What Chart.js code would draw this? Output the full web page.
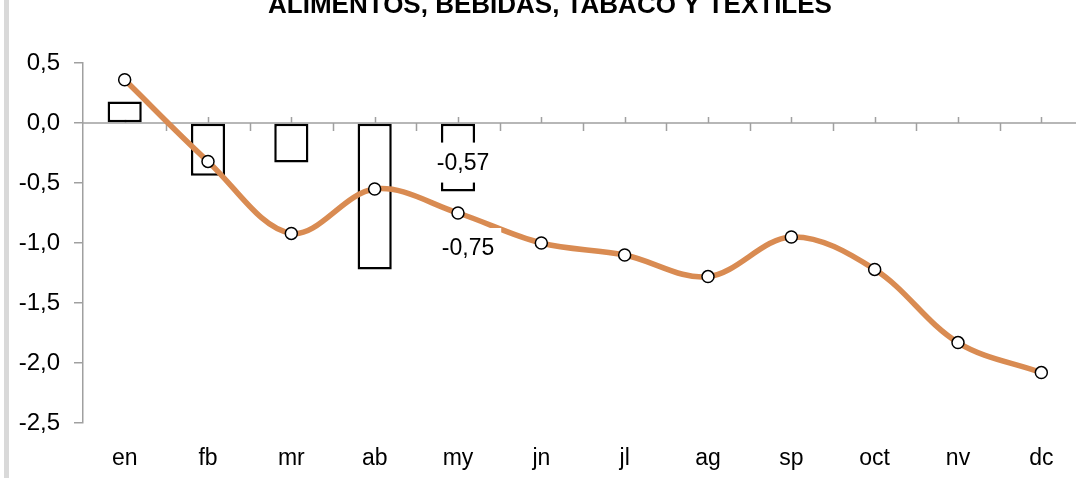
<!DOCTYPE html>
<html>
<head>
<meta charset="utf-8">
<script src="https://cdn.jsdelivr.net/npm/chart.js@4.4.1/dist/chart.umd.min.js"></script>
<style>
  html, body { margin: 0; padding: 0; background: #fff; overflow: hidden; }
  #wrap { width: 1076px; height: 478px; overflow: hidden; }
</style>
</head>
<body>
<div id="wrap"><canvas id="chart" width="1100" height="478"></canvas></div>
<script>
// Monthly series
const months = ["en", "fb", "mr", "ab", "my", "jn", "jl", "ag", "sp", "oct", "nv", "dc"];
const barValues = [0.18, -0.44, -0.33, -1.22, -0.57, null, null, null, null, null, null, null];
const lineValues = [0.36, -0.32, -0.92, -0.55, -0.75, -1.00, -1.10, -1.28, -0.95, -1.22, -1.83, -2.08];
const yTicks = [0.5, 0.0, -0.5, -1.0, -1.5, -2.0, -2.5];
const labelledMonth = "my";
const chartTitle = "ALIMENTOS, BEBIDAS, TABACO Y TEXTILES";

const FONT = '"Liberation Sans Narrow", "Arial Narrow", "Liberation Sans", Arial, sans-serif';
const ORANGE = "#D98B52";
const GREY = "#a0a0a0";

const fmt = v => v.toFixed(2).replace(".", ",");

// white background, grey frame edge on the left and the title
const framePlugin = {
    id: "frame",
    beforeDraw(chart) {
        const ctx = chart.ctx;
        ctx.save();
        ctx.fillStyle = "#fff";
        ctx.fillRect(0, 0, chart.width, chart.height);
        ctx.fillStyle = "#d9d9d9";
        ctx.fillRect(4, 0, 5, chart.height);
        ctx.restore();
    },
    afterDraw(chart) {
        const ctx = chart.ctx;
        ctx.save();
        ctx.font = "bold 26px " + FONT;
        ctx.fillStyle = "#000";
        ctx.textAlign = "center";
        ctx.textBaseline = "alphabetic";
        ctx.fillText(chartTitle, chart.width / 2, 13);
        ctx.restore();
    }
};

// horizontal axis line at zero with its tick marks
const zeroAxisPlugin = {
    id: "zeroAxis",
    beforeDatasetsDraw(chart) {
        const { ctx, chartArea, scales } = chart;
        const y0 = scales.y.getPixelForValue(0);
        ctx.save();
        ctx.strokeStyle = GREY;
        ctx.lineWidth = 1.5;
        ctx.beginPath();
        ctx.moveTo(chartArea.left, y0);
        ctx.lineTo(chartArea.right, y0);
        for (let i = 0; i < months.length; i++) {
            const cx = Math.round(scales.x.getPixelForValue(i)) + 0.5;
            ctx.moveTo(cx, y0 - 6);
            ctx.lineTo(cx, y0);
        }
        for (let i = 1; i <= months.length; i++) {
            const bx = Math.round(scales.x.getPixelForValue(i - 0.5)) + 0.5;
            ctx.moveTo(bx, y0);
            ctx.lineTo(bx, y0 + 8);
        }
        ctx.stroke();
        ctx.restore();
    }
};

// value labels on white boxes for the selected month
const valueLabelPlugin = {
    id: "valueLabels",
    afterDatasetsDraw(chart) {
        const ctx = chart.ctx;
        const i = months.indexOf(labelledMonth);
        const lineEl = chart.getDatasetMeta(0).data[i];
        const barEl = chart.getDatasetMeta(1).data[i];
        const items = [
            { text: fmt(barValues[i]), x: barEl.x + 5, y: (barEl.base + barEl.y) / 2 + 5 },
            { text: fmt(lineValues[i]), x: lineEl.x + 10, y: lineEl.y + 35 }
        ];
        ctx.save();
        ctx.font = "23px " + FONT;
        ctx.textAlign = "center";
        ctx.textBaseline = "middle";
        items.forEach(it => {
            const w = ctx.measureText(it.text).width + 14;
            ctx.fillStyle = "#fff";
            ctx.fillRect(it.x - w / 2, it.y - 20, w, 40);
            ctx.fillStyle = "#000";
            ctx.fillText(it.text, it.x, it.y + 1);
        });
        ctx.restore();
    }
};

const ctx = document.getElementById("chart").getContext("2d");
new Chart(ctx, {
    type: "bar",
    data: {
        labels: months,
        datasets: [
            {
                type: "line",
                data: lineValues,
                borderColor: ORANGE,
                borderWidth: 5.5,
                tension: 0.35,
                pointRadius: 6,
                pointBorderWidth: 1.5,
                pointBackgroundColor: "#fff",
                pointBorderColor: "#000",
                order: 1
            },
            {
                type: "bar",
                data: barValues,
                backgroundColor: "#fff",
                borderColor: "#000",
                borderWidth: 2.5,
                borderSkipped: false,
                barPercentage: 0.41,
                categoryPercentage: 1,
                order: 2
            }
        ]
    },
    options: {
        responsive: false,
        animation: false,
        layout: { padding: { top: 63, left: 0, right: 17, bottom: 0 } },
        plugins: {
            legend: { display: false },
            tooltip: { enabled: false }
        },
        scales: {
            x: {
                grid: { display: false, drawTicks: false },
                border: { display: false },
                ticks: { color: "#000", font: { family: FONT, size: 23 }, padding: 22 },
                afterFit(scale) { scale.height = 478 - 423; }
            },
            y: {
                min: -2.5,
                max: 0.5,
                afterBuildTicks(scale) { scale.ticks = yTicks.map(v => ({ value: v })); },
                ticks: {
                    color: "#000",
                    font: { family: FONT, size: 24 },
                    padding: 14,
                    callback: v => v.toFixed(1).replace(".", ",")
                },
                grid: { drawOnChartArea: false, tickLength: 9, color: GREY, lineWidth: 1.5 },
                border: { color: GREY, width: 1.5 },
                afterFit(scale) { scale.width = 83; }
            }
        }
    },
    plugins: [framePlugin, zeroAxisPlugin, valueLabelPlugin]
});
</script>
</body>
</html>
